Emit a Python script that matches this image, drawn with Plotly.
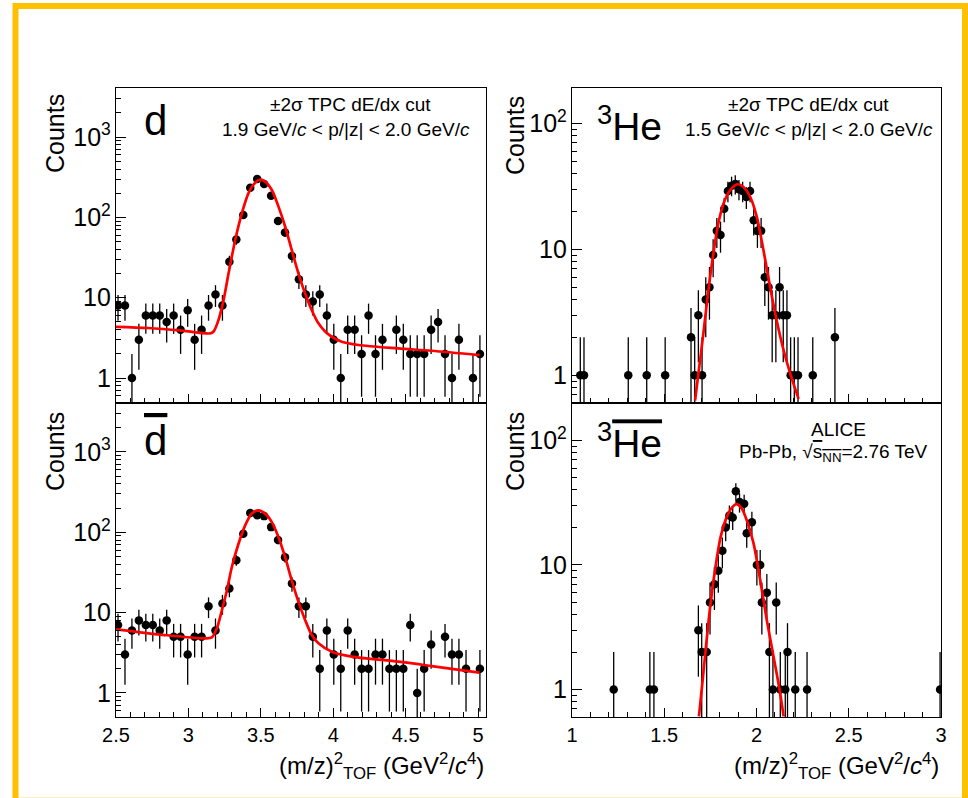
import plotly.graph_objects as go

W, H = 968, 798

# ---------------- data ----------------
# deuteron bins (m/z)^2 centres, left panels
d_x = [2.514, 2.562, 2.610, 2.658, 2.706, 2.754, 2.802, 2.850, 2.898, 2.946,
       2.995, 3.043, 3.091, 3.139, 3.187, 3.235, 3.283, 3.331, 3.379, 3.427,
       3.475, 3.523, 3.571, 3.619, 3.667, 3.715, 3.763, 3.811, 3.859, 3.907,
       3.956, 4.004, 4.052, 4.100, 4.148, 4.196, 4.244, 4.292, 4.340, 4.388,
       4.436, 4.484, 4.532, 4.580, 4.628, 4.676, 4.724, 4.772, 4.820, 4.868,
       4.917, 4.965, 5.013]
d_counts = [8, 8, 1, 3, 6, 6, 6, 5, 6, 4,
            7, 3, 4, 8, 11, 8, 28, 53, 107, 234,
            301, 261, 186, 90, 65, 33, 17, 11, 9, 11,
            6, 3, 1, 4, 4, 2, 6, 2, 3, 0,
            4, 3, 2, 2, 2, 4, 5, 2, 1, 3,
            0, 1, 2]
dbar_counts = [7, 3, 6, 8, 7, 7, 6, 8, 5, 5,
               3, 5, 5, 12, 6, 13, 20, 45, 96, 174,
               163, 159, 116, 80, 49, 23, 12, 12, 5, 2,
               6, 3, 2, 6, 3, 2, 2, 3, 3, 2,
               2, 2, 7, 1, 2, 4, 0, 5, 3, 3,
               2, 0, 2]

# fit curves
d_fit_x = [2.50, 2.725, 2.955, 3.15, 3.174, 3.208, 3.243, 3.277, 3.323, 3.369,
           3.415, 3.461, 3.495, 3.53, 3.576, 3.622, 3.668, 3.714, 3.76, 3.806,
           3.852, 3.898, 3.944, 3.99, 4.059, 4.174, 4.449, 4.68, 5.01]
d_fit_y = [4.35, 4.2, 3.9, 3.6, 3.8, 5.3, 9.4, 20, 52, 112,
           200, 270, 295, 279, 219, 136, 77, 39, 20, 11.3,
           7.0, 4.8, 3.8, 3.27, 2.83, 2.58, 2.34, 2.19, 1.93]
dbar_fit_x = [2.50, 2.84, 3.116, 3.162, 3.197, 3.231, 3.266, 3.30, 3.346, 3.392,
              3.438, 3.484, 3.53, 3.576, 3.622, 3.668, 3.714, 3.76, 3.806, 3.852,
              3.898, 3.99, 4.128, 4.449, 4.68, 5.01]
dbar_fit_y = [6.2, 5.25, 4.78, 4.9, 6.4, 10.7, 19, 37, 72, 122,
              171, 188, 171, 134, 87, 49, 25, 13.6, 8.1, 5.25,
              4.14, 3.26, 2.83, 2.45, 2.16, 1.79]

# 3He (right top)
he_x = [1.045, 1.065, 1.305, 1.405, 1.505, 1.645, 1.665, 1.685, 1.705, 1.725,
        1.745, 1.765, 1.785, 1.805, 1.825, 1.845, 1.865, 1.885, 1.905, 1.925,
        1.945, 1.965, 1.985, 2.005, 2.025, 2.045, 2.065, 2.085, 2.105, 2.125,
        2.145, 2.165, 2.185, 2.205, 2.225, 2.305, 2.425]
he_counts = [1, 1, 1, 1, 1, 2, 1, 3, 1, 4,
             5, 9, 14, 13, 21, 29, 32, 33, 30, 29,
             26, 29, 17, 14, 14, 6, 5, 3, 3, 5,
             3, 3, 1, 1, 1, 1, 2]
he_fit_x = [1.667, 1.685, 1.712, 1.739, 1.766, 1.793, 1.821, 1.857, 1.897, 1.929,
            1.966, 2.002, 2.038, 2.074, 2.11, 2.147, 2.183, 2.228]
he_fit_y = [0.63, 1.03, 2.14, 4.7, 9.2, 16, 23, 29.4, 32.8, 31.2,
            26, 18, 9.8, 5.0, 2.7, 1.58, 1.03, 0.65]

# anti-3He (right bottom)
hebar_x = [1.226, 1.422, 1.444, 1.685, 1.703, 1.73, 1.748, 1.772, 1.793, 1.815,
           1.833, 1.853, 1.871, 1.888, 1.908, 1.933, 1.947, 1.975, 2.002, 2.02,
           2.029, 2.056, 2.07, 2.089, 2.107, 2.129, 2.156, 2.168, 2.21, 2.274,
           2.995]
hebar_counts = [1, 1, 1, 3, 2, 2, 5, 7, 9, 13,
                20, 25, 24, 39, 32, 31, 18, 22, 10, 10,
                5, 6, 2, 1, 5, 1, 1, 2, 1, 1,
                1]
hebar_fit_x = [1.688, 1.703, 1.721, 1.745, 1.775, 1.806, 1.839, 1.87, 1.893, 1.92,
               1.947, 1.984, 2.02, 2.056, 2.092, 2.125, 2.147]
hebar_fit_y = [0.61, 1.0, 1.85, 4.1, 9.1, 16.9, 24.4, 29.3, 30.8, 28.4,
               22.9, 14.9, 7.6, 3.6, 1.85, 1.0, 0.61]

# ---------------- figure ----------------
FONT = "Liberation Sans, Arial, Helvetica, sans-serif"


def px(x):
    return x / W


def py(y):
    return 1 - y / H


fig = go.Figure()


def add_hist(xs, ys, xa, ya):
    pts = [(x, y) for x, y in zip(xs, ys) if y > 0]
    X = [p[0] for p in pts]
    Y = [p[1] for p in pts]
    E = [y ** 0.5 for y in Y]
    fig.add_trace(go.Scatter(
        x=X, y=Y, mode="markers", xaxis=xa, yaxis=ya,
        marker=dict(color="black", size=8.5),
        error_y=dict(type="data", array=E, visible=True, color="black",
                     thickness=1.3, width=0),
        showlegend=False, hoverinfo="skip"))


def add_fit(xs, ys, xa, ya):
    fig.add_trace(go.Scatter(
        x=xs, y=ys, mode="lines", xaxis=xa, yaxis=ya,
        line=dict(color="#ff0000", width=2.7, shape="spline", smoothing=0.8),
        showlegend=False, hoverinfo="skip", cliponaxis=True))


add_hist(d_x, d_counts, "x", "y")
add_fit(d_fit_x, d_fit_y, "x", "y")
add_hist(he_x, he_counts, "x2", "y2")
add_fit(he_fit_x, he_fit_y, "x2", "y2")
add_hist(d_x, dbar_counts, "x3", "y3")
add_fit(dbar_fit_x, dbar_fit_y, "x3", "y3")
add_hist(hebar_x, hebar_counts, "x4", "y4")
add_fit(hebar_fit_x, hebar_fit_y, "x4", "y4")

LX = [px(116), px(486)]
RX = [px(572), px(941)]
TY = [py(403), py(88)]
BY = [py(717), py(403)]

common = dict(showline=True, mirror=True, linecolor="black", linewidth=1.3,
              ticks="inside", tickcolor="black", tickwidth=1,
              showgrid=False, zeroline=False, automargin=False,
              tickfont=dict(family=FONT, size=20, color="black"))


def xaxis(domain, rng, dtick, anchor, labels):
    return dict(common, domain=domain, range=rng, dtick=dtick, tick0=0,
                ticklen=9, anchor=anchor, showticklabels=labels,
                minor=dict(ticks="inside", ticklen=5, dtick=0.1, tick0=0,
                           tickcolor="black", tickwidth=1, showgrid=False))


def yaxis(domain, rng, anchor):
    return dict(common, type="log", domain=domain, range=rng, dtick=1, tick0=0,
                exponentformat="power", ticklen=10, anchor=anchor,
                minor=dict(ticks="inside", ticklen=5, dtick="D1",
                           tickcolor="black", tickwidth=1, showgrid=False))


fig.update_layout(
    width=W, height=H, autosize=False, showlegend=False,
    margin=dict(l=0, r=0, t=0, b=0, pad=0, autoexpand=False),
    paper_bgcolor="white", plot_bgcolor="white",
    xaxis=xaxis(LX, [2.5, 5.055], 0.5, "y", False),
    yaxis=yaxis(TY, [-0.31, 3.61], "x"),
    xaxis2=xaxis(RX, [1.0, 3.0], 0.5, "y2", False),
    yaxis2=yaxis(TY, [-0.22, 2.28], "x2"),
    xaxis3=xaxis(LX, [2.5, 5.055], 0.5, "y3", True),
    yaxis3=yaxis(BY, [-0.30, 3.61], "x3"),
    xaxis4=xaxis(RX, [1.0, 3.0], 0.5, "y4", True),
    yaxis4=yaxis(BY, [-0.22, 2.30], "x4"),
)

ann = []


def text(x, y, s, size, xanchor="center", yanchor="middle", angle=0):
    ann.append(dict(x=px(x), y=py(y), xref="paper", yref="paper", text=s,
                    showarrow=False, xanchor=xanchor, yanchor=yanchor,
                    textangle=angle,
                    font=dict(family=FONT, size=size, color="black")))


for (cx, cy) in [(55, 134), (55, 452), (515, 136), (515, 452)]:
    text(cx, cy, "Counts", 25, angle=-90)

xtitle = "(m/z)<sup>2</sup><sub>TOF</sub> (GeV<sup>2</sup>/<i>c</i><sup>4</sup>)"
text(486, 766, xtitle, 24, xanchor="right")
text(941, 766, xtitle, 24, xanchor="right")

text(142, 120, "d", 42, xanchor="left")
text(142, 440, '<span style="text-decoration:overline">d</span>', 42, xanchor="left")
text(595, 123, "<sup>3</sup>He", 39, xanchor="left")
text(595, 440, '<sup>3</sup><span style="text-decoration:overline">He</span>', 39,
     xanchor="left")

text(350, 104, "±2σ TPC dE/dx cut", 19)
text(472, 130, "1.9 GeV/<i>c</i> &lt; p/|z| &lt; 2.0 GeV/<i>c</i>", 19, xanchor="right")
text(808, 104, "±2σ TPC dE/dx cut", 19)
text(935, 130, "1.5 GeV/<i>c</i> &lt; p/|z| &lt; 2.0 GeV/<i>c</i>", 19, xanchor="right")
text(838, 429, "ALICE", 19)
text(930, 453, 'Pb-Pb, √<span style="text-decoration:overline">s<sub>NN</sub></span>=2.76 TeV',
     19, xanchor="right")

fig.update_layout(annotations=ann)

# yellow frame around the picture
fig.add_shape(type="rect", xref="paper", yref="paper",
              x0=px(15.5), x1=px(965), y0=py(800.7), y1=py(6),
              line=dict(color="#ffc000", width=6), fillcolor="rgba(0,0,0,0)",
              layer="above")

fig.write_html("out.html")
